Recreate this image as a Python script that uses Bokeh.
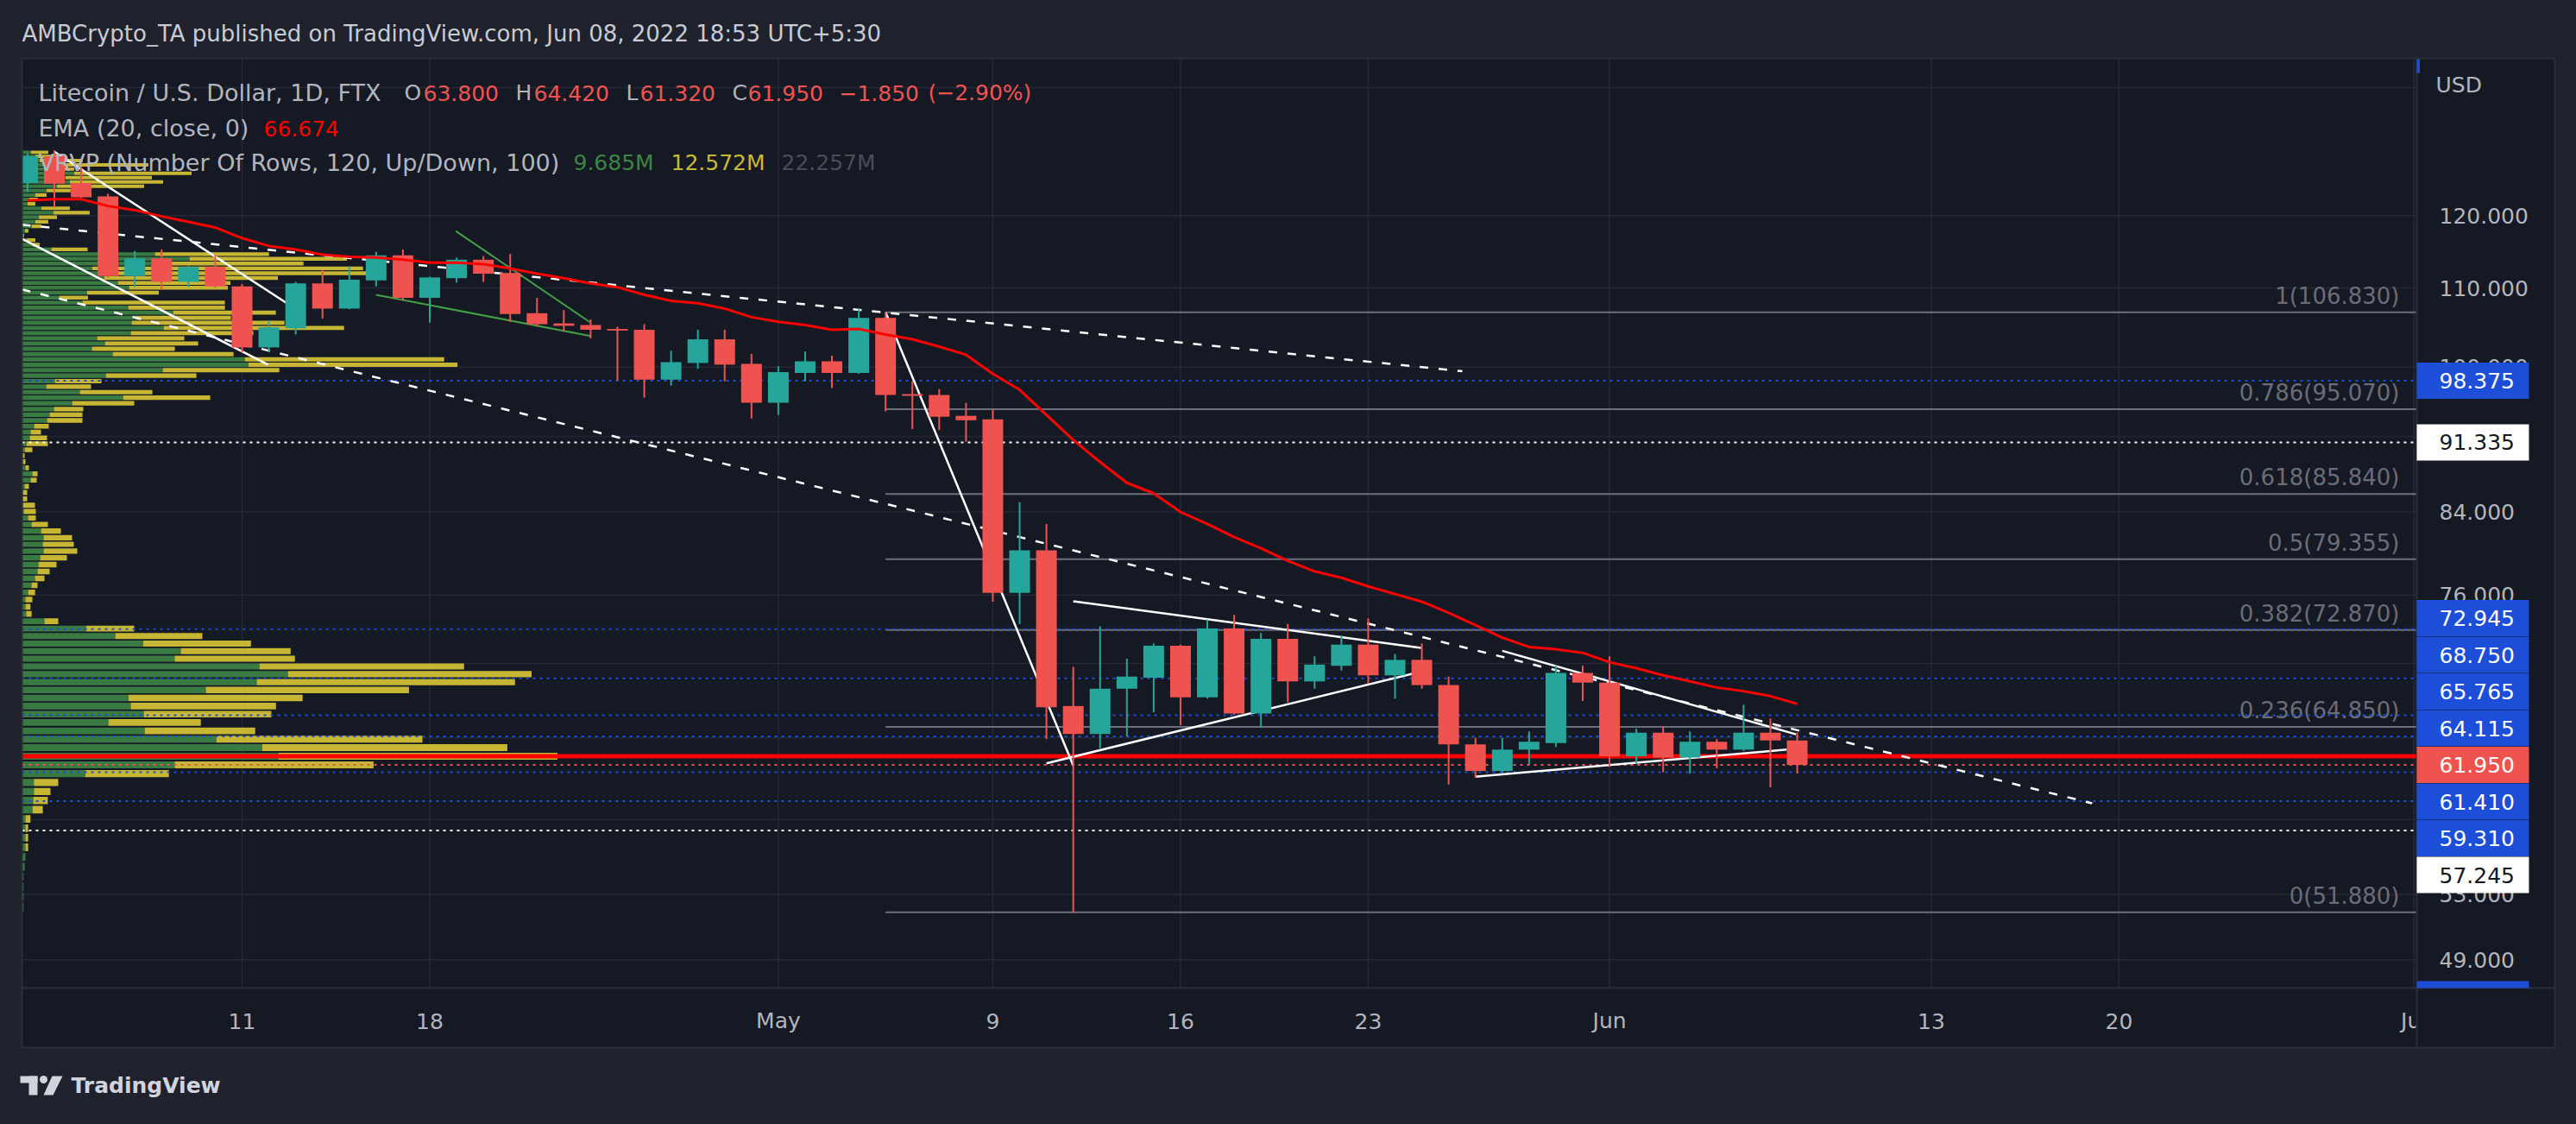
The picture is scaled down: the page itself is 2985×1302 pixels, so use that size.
import math
import pandas as pd
from bokeh.plotting import figure
from bokeh.models import Range1d, LogScale
from bokeh.embed import file_html
from bokeh.resources import INLINE
from bokeh.core.properties import value

# ---------------------------------------------------------------- data
candle_start = "2022-04-03"
opens = [124.8, 128.9, 124.8, 122.8, 111.6, 114.0, 110.8, 112.8, 110.2, 102.4,
         104.8, 110.6, 107.3, 111.0, 114.4, 108.7, 111.3, 113.8, 112.0, 106.7,
         105.4, 105.2, 104.7, 104.6, 98.5, 100.5, 103.4, 100.4, 95.8, 99.3,
         100.7, 99.3, 106.1, 96.8, 96.7, 94.3, 93.9, 76.2, 80.2, 66.5,
         64.3, 67.9, 68.8, 71.5, 67.2, 73.0, 65.9, 72.1, 68.5, 69.8,
         71.6, 69.0, 70.3, 68.2, 63.5, 61.5, 63.1, 63.6, 69.2, 68.4,
         62.6, 64.4, 62.5, 63.7, 63.1, 64.4, 63.8]
highs = [129.3, 129.84, 127.3, 123.2, 115.0, 115.2, 113.0, 114.5, 110.5, 105.8,
         110.8, 112.4, 112.9, 114.9, 115.2, 111.5, 114.1, 114.3, 114.6, 108.7,
         107.1, 105.9, 105.0, 105.3, 102.0, 104.6, 104.6, 101.6, 100.1, 101.9,
         101.4, 107.2, 106.83, 98.3, 97.4, 95.8, 95.0, 85.0, 82.8, 69.7,
         73.2, 70.4, 71.7, 71.6, 73.8, 74.2, 72.6, 73.4, 70.6, 72.4,
         73.9, 70.8, 71.7, 68.9, 64.0, 64.0, 64.5, 69.8, 69.8, 70.6,
         64.7, 64.9, 64.5, 63.9, 66.6, 65.5, 64.42]
lows = [123.5, 121.2, 122.6, 111.4, 110.1, 109.8, 110.1, 110.0, 101.8, 101.8,
        104.0, 106.0, 107.2, 110.2, 108.4, 105.5, 110.7, 110.8, 105.6, 105.0,
        104.4, 103.5, 98.4, 96.4, 97.8, 99.8, 98.3, 94.0, 94.4, 98.3,
        97.5, 99.2, 94.8, 92.8, 92.7, 91.4, 75.4, 73.4, 63.9, 51.88,
        63.2, 64.1, 66.0, 65.0, 67.1, 65.8, 64.8, 66.8, 67.9, 69.4,
        68.3, 67.1, 67.9, 60.5, 61.0, 61.3, 62.0, 63.3, 66.9, 61.8,
        62.0, 61.4, 61.3, 61.7, 63.0, 60.3, 61.32]
closes = [128.9, 124.7, 122.7, 111.6, 114.0, 110.8, 112.8, 110.2, 102.4, 104.9,
          110.6, 107.3, 111.1, 114.4, 108.7, 111.4, 113.8, 111.9, 106.6, 105.3,
          105.1, 104.6, 104.5, 98.5, 100.6, 103.4, 100.3, 95.8, 99.4, 100.7,
          99.3, 106.1, 96.7, 96.6, 94.2, 93.8, 76.2, 80.2, 66.4, 64.3,
          67.9, 68.9, 71.5, 67.2, 73.0, 65.9, 72.1, 68.5, 69.9, 71.6,
          69.0, 70.3, 68.2, 63.5, 61.5, 63.1, 63.7, 69.2, 68.4, 62.6,
          64.4, 62.5, 63.7, 63.1, 64.4, 63.8, 61.95]
ema20 = [122.2, 122.4, 122.4, 121.4, 120.8, 119.9, 119.1, 118.3, 116.8, 115.7,
         115.2, 114.5, 114.2, 114.1, 113.8, 113.4, 113.4, 113.2, 112.6, 111.9,
         111.3, 110.6, 110.1, 109.1, 108.3, 108.0, 107.3, 106.2, 105.6, 105.2,
         104.6, 104.7, 104.0, 103.4, 102.5, 101.5, 99.2, 97.3, 94.4, 91.6,
         89.2, 87.0, 85.9, 84.0, 82.8, 81.5, 80.4, 79.2, 78.2, 77.6,
         76.8, 76.1, 75.4, 74.4, 73.3, 72.2, 71.4, 71.2, 70.9, 70.1,
         69.6, 69.0, 68.5, 68.0, 67.7, 67.3, 66.674]

# visible-range volume profile, 120 rows from the low upwards (relative volume)
vp_up = [1.4, 1.4, 1.4, 1.4, 2.7, 3.6, 3.6, 3.6, 3.6, 3.6,
         11.7, 12.6, 13.4, 13.4, 72.8, 176.4, 296.5, 277.7, 224.6, 141.6,
         99.6, 140.7, 125.5, 122.8, 212.5, 271.5, 307.6, 274.6, 176.4, 183.5,
         139.8, 107.6, 73.7, 25.5, 4.5, 3.6, 3.6, 6.7, 10.6, 14.6,
         17.6, 18.6, 20.6, 24.6, 23.6, 24.6, 21.6, 10.6, 6.6, 1.6,
         0.6, 0.5, 0.5, 2.6, 9.6, 11.6, 3.6, 0.5, 0.6, 2.6,
         4.6, 8.6, 9.6, 13.6, 28.6, 31.6, 36.6, 57.6, 116.6, 66.6,
         27.6, 37.6, 96.6, 162.6, 262.0, 257.6, 104.6, 80.6, 95.6, 86.6,
         125.6, 163.6, 126.6, 131.6, 174.6, 122.6, 69.6, 42.6, 75.0, 123.6,
         110.6, 94.6, 91.0, 81.0, 154.0, 193.6, 153.6, 33.6, 12.0, 5.0,
         1.0, 3.0, 11.0, 15.0, 19.0, 36.0, 22.0, 6.0, 8.0, 15.0,
         28.0, 40.0, 55.0, 50.0, 60.0, 25.0, 30.0, 20.0, 15.0, 10.0]
vp_down = [0, 0, 0, 0, 0, 0, 3.1, 3.1, 3.1, 5.8,
           12.0, 16.9, 19.2, 28.2, 96.9, 230.4, 323.2, 284.0, 238.8, 128.1,
           107.1, 147.7, 168.3, 201.8, 235.3, 299.1, 282.2, 237.0, 139.3, 127.3,
           125.0, 100.9, 55.8, 16.1, 6.3, 5.8, 8.0, 8.1, 7.0, 11.0,
           14.0, 21.0, 31.0, 39.0, 36.0, 33.0, 23.0, 19.0, 9.0, 14.0,
           14.0, 5.1, 5.1, 5.0, 7.0, 6.0, 4.0, 3.1, 2.0, 9.0,
           25.0, 20.0, 12.0, 17.0, 41.0, 38.0, 34.0, 72.0, 101.0, 84.0,
           52.0, 54.0, 105.0, 135.0, 242.0, 231.0, 140.0, 96.0, 108.0, 101.0,
           142.0, 209.0, 177.0, 110.0, 119.0, 112.0, 165.0, 33.4, 83.0, 114.4,
           130.4, 201.4, 315.0, 313.6, 171.6, 182.4, 132.0, 42.0, 8.0, 10.0,
           1.0, 4.0, 11.0, 15.0, 21.0, 42.0, 33.0, 9.0, 10.0, 13.0,
           28.0, 101.0, 108.0, 100.0, 136.0, 35.0, 116.0, 50.0, 30.0, 20.0]

fib_anchor_date = "2022-05-05"
fib_high, fib_low = 106.83, 51.88
fib_ratios = [1, 0.786, 0.618, 0.5, 0.382, 0.236, 0]

blue_marks = [98.375, 72.945, 68.75, 65.765, 64.115, 61.41, 59.31]
white_marks = [91.335, 57.245]
last_price = 61.95

price_ticks = [49, 53, 58, 64, 70, 76, 84, 92, 100, 110, 120, 140]
price_labels_shown = [49, 53, 76, 84, 100, 110, 120]
date_ticks = ["2022-04-11", "2022-04-18", "2022-05-01", "2022-05-09", "2022-05-16",
              "2022-05-23", "2022-06-01", "2022-06-13", "2022-06-20", "2022-07-01"]
date_labels = ["11", "18", "May", "9", "16", "23", "Jun", "13", "20", "Jul"]

dashed_lines = [(("2022-04-02 19:00", 118.7), ("2022-05-26 12:15", 99.5)),
                (("2022-04-02 19:00", 109.8), ("2022-06-19 00:00", 59.15))]
white_lines = [(("2022-04-04 00:00", 129.6), ("2022-04-12 17:00", 107.9)),
               (("2022-04-02 19:00", 116.7), ("2022-04-11 23:10", 100.3)),
               (("2022-05-05 00:00", 106.83), ("2022-05-12 00:00", 61.9)),
               (("2022-05-12 00:00", 75.44), ("2022-05-24 23:15", 71.32)),
               (("2022-05-11 00:00", 62.07), ("2022-05-24 18:30", 69.2)),
               (("2022-05-28 00:00", 71.07), ("2022-06-07 23:00", 64.27)),
               (("2022-05-26 23:30", 61.08), ("2022-06-07 14:40", 63.1))]
green_lines = [(("2022-04-18 23:15", 117.8), ("2022-04-24 00:00", 105.5)),
               (("2022-04-15 23:45", 109.1), ("2022-04-24 00:00", 103.8))]

# ---------------------------------------------------------------- layout
W, H, OFF = 2985, 1302, 0
X0, PXD = 280.0, 31.07          # screen x of 11 Apr, px per day
YA, YB = 4856.3, 962.3          # log price scale
FONT = "DejaVu Sans"
OUTER, CHART, GRID, BORDER = "#1f222d", "#151924", "#252935", "#2a2e39"
UP, DOWN, BLUE, TXT = "#26a69a", "#ef5350", "#1c4ed8", "#b2b5be"


def X(px):
    return (px - X0) / PXD


def Y(px):
    return math.exp((YA - px) / YB)


def PY(price):
    return YA - YB * math.log(price)


REF = pd.Timestamp("2022-04-11")


def dnum(s):
    return (pd.Timestamp(s) - REF) / pd.Timedelta(days=1)


p = figure(width=W, height=H, x_range=Range1d(X(OFF), X(OFF + W)),
           y_range=Range1d(Y(OFF + H), Y(OFF)), y_axis_type="log",
           x_axis_location=None, y_axis_location=None, toolbar_location=None,
           output_backend="svg", min_border=0, background_fill_color=OUTER,
           border_fill_color=OUTER, outline_line_color=None)
p.y_scale = LogScale()
p.grid.visible = False


def txt(xd, yd, s, color, size="25px", align="left", baseline="middle", style="normal"):
    p.text(x=list(xd), y=list(yd), text=list(s), text_color=color, text_font=value(FONT),
           text_font_size=size, text_align=align, text_baseline=baseline,
           text_font_style=style)


XL, XR = X(25), X(2800)

# panel
p.quad(left=[XL], right=[X(2960)], bottom=[Y(1213)], top=[Y(67)], fill_color=CHART, line_color=None)

# grid
gx = [dnum(t) for t in date_ticks]
p.segment(x0=gx, y0=Y(67), x1=gx, y1=Y(1144), line_color=GRID, line_width=1.5)
p.segment(x0=XL, y0=price_ticks, x1=XR, y1=price_ticks, line_color=GRID, line_width=1.5)

# volume profile
n = len(vp_up)
lo, hi = min(lows), max(highs)
step = (hi - lo) / n
tot = [u + d for u, d in zip(vp_up, vp_down)]
vscale = (620.0 / PXD) / max(tot)
left0 = X(25.4)
vb = [lo + (i + 0.1) * step for i in range(n)]
vt = [lo + (i + 0.9) * step for i in range(n)]
ur = [left0 + u * vscale for u in vp_up]
dr = [r + d * vscale for r, d in zip(ur, vp_down)]
p.quad(left=left0, right=ur, bottom=vb, top=vt, fill_color="#387a42", line_color=None)
p.quad(left=ur, right=dr, bottom=vb, top=vt, fill_color="#c6b634", line_color=None)

# fib retracement
fx0 = dnum(fib_anchor_date)
fib_prices = [round((fib_low + r * (fib_high - fib_low)) / 0.005) * 0.005 for r in fib_ratios]
p.segment(x0=fx0, y0=fib_prices, x1=XR, y1=fib_prices, line_color="#6c6f7a", line_width=2)
txt([X(2780)] * len(fib_prices), [Y(PY(v) - 4) for v in fib_prices],
    [f"{r:g}({v:.3f})" for r, v in zip(fib_ratios, fib_prices)],
    "#6a6d78", size="26px", align="right", baseline="bottom")

# horizontal price lines
p.segment(x0=XL, y0=blue_marks, x1=XR, y1=blue_marks, line_color=BLUE, line_width=2, line_dash="3 5")
p.segment(x0=XL, y0=white_marks, x1=XR, y1=white_marks, line_color="#ffffff", line_width=2, line_dash="3 5")
p.segment(x0=XL, y0=[last_price], x1=XR, y1=[last_price], line_color=DOWN, line_width=2, line_dash="3 5")

# point of control
ipoc = tot.index(max(tot))
poc = lo + (ipoc + 0.5) * step
p.segment(x0=[XL], y0=[poc], x1=[XR], y1=[poc], line_color="#ff0000", line_width=5)


def seg_cols(lines):
    return ([dnum(a[0]) for a, b in lines], [a[1] for a, b in lines],
            [dnum(b[0]) for a, b in lines], [b[1] for a, b in lines])


x0s, y0s, x1s, y1s = seg_cols(dashed_lines)
p.segment(x0=x0s, y0=y0s, x1=x1s, y1=y1s, line_color="#ffffff", line_width=2.5, line_dash="10 12")
x0s, y0s, x1s, y1s = seg_cols(white_lines)
p.segment(x0=x0s, y0=y0s, x1=x1s, y1=y1s, line_color="#ffffff", line_width=2.5)
x0s, y0s, x1s, y1s = seg_cols(green_lines)
p.segment(x0=x0s, y0=y0s, x1=x1s, y1=y1s, line_color="#43a047", line_width=2)

# candles
dates = pd.date_range(candle_start, periods=len(opens), freq="D")
dx = [(t - REF) / pd.Timedelta(days=1) for t in dates]
cols = [UP if c >= o else DOWN for o, c in zip(opens, closes)]
hw = 12.0 / PXD
p.segment(x0=dx, y0=lows, x1=dx, y1=highs, line_color=cols, line_width=2)
p.quad(left=[d - hw for d in dx], right=[d + hw for d in dx],
       bottom=[min(o, c) for o, c in zip(opens, closes)],
       top=[max(o, c) for o, c in zip(opens, closes)], fill_color=cols, line_color=None)

# EMA
p.line(dx, ema20, line_color="#ff0000", line_width=3)

# masks around the pane
p.quad(left=[X(-10)], right=[XL], bottom=[Y(1320)], top=[Y(-10)], fill_color=OUTER, line_color=None)
p.quad(left=[X(-10)], right=[X(3010)], bottom=[Y(67)], top=[Y(-10)], fill_color=OUTER, line_color=None)
p.quad(left=[X(-10)], right=[X(3010)], bottom=[Y(1320)], top=[Y(1213)], fill_color=OUTER, line_color=None)
p.quad(left=[X(2960)], right=[X(3010)], bottom=[Y(1320)], top=[Y(-10)], fill_color=OUTER, line_color=None)
p.quad(left=[XL], right=[X(2960)], bottom=[Y(1213)], top=[Y(1144)], fill_color=CHART, line_color=None)

# date labels
txt(gx, [Y(1182)] * len(gx), date_labels, TXT, align="center")

# price axis column
p.quad(left=[XR], right=[X(2960)], bottom=[Y(1213)], top=[Y(67)], fill_color=CHART, line_color=None)
p.segment(x0=[XR], y0=[Y(67)], x1=[XR], y1=[Y(1213)], line_color=BORDER, line_width=2)
p.segment(x0=[XL], y0=[Y(1144)], x1=[X(2960)], y1=[Y(1144)], line_color=BORDER, line_width=2)
p.quad(left=[XL], right=[X(2960)], bottom=[Y(1213)], top=[Y(67)], fill_color=None,
       line_color=BORDER, line_width=2)

txt([X(2822)], [Y(98)], ["USD"], TXT)
txt([X(2826)] * len(price_labels_shown), price_labels_shown,
    [f"{v:.3f}" for v in price_labels_shown], TXT)

# price tags (stacked around the last price)
tags = [(v, BLUE, "#ffffff") for v in blue_marks] + [(v, "#ffffff", "#131722") for v in white_marks]
tags.append((last_price, DOWN, "#ffffff"))
tags.sort(key=lambda t: -t[0])
TAG_H = 42.5
cy = [PY(t[0]) for t in tags]
ia = [t[0] for t in tags].index(last_price)
for k in range(ia - 1, -1, -1):
    cy[k] = min(cy[k], cy[k + 1] - TAG_H)
for k in range(ia + 1, len(tags)):
    cy[k] = max(cy[k], cy[k - 1] + TAG_H)
p.quad(left=XR, right=X(2930), bottom=[Y(c + 21) for c in cy], top=[Y(c - 21) for c in cy],
       fill_color=[t[1] for t in tags], line_color=None)
for t, c in zip(tags, cy):
    txt([X(2826)], [Y(c)], [f"{t[0]:.3f}"], t[2])
p.quad(left=[XR], right=[X(2930)], bottom=[Y(1144)], top=[Y(1136)], fill_color=BLUE, line_color=None)
p.quad(left=[XR], right=[X(2803.5)], bottom=[Y(84)], top=[Y(68)], fill_color=BLUE, line_color=None)

# header and legends
txt([X(25)], [Y(38)], ["AMBCrypto_TA published on TradingView.com, Jun 08, 2022 18:53 UTC+5:30"],
    "#c8cbd3", size="26px")
RED = "#f05350"
LBL = "27px"
txt([X(44)], [Y(107)], ["Litecoin / U.S. Dollar, 1D, FTX"], TXT, size=LBL)
hdr = [(468, "O", TXT), (490, "63.800", RED), (597, "H", TXT), (618, "64.420", RED),
       (725, "L", TXT), (741, "61.320", RED), (848, "C", TXT), (866, "61.950", RED),
       (972, "\u22121.850", RED), (1075, "(\u22122.90%)", RED)]
for xx, s, c in hdr:
    txt([X(xx)], [Y(107)], [s], c)
txt([X(44)], [Y(148)], ["EMA (20, close, 0)"], TXT, size=LBL)
txt([X(305)], [Y(148)], ["66.674"], "#ff0000")
txt([X(44)], [Y(188)], ["VRVP (Number Of Rows, 120, Up/Down, 100)"], TXT, size=LBL)
txt([X(664)], [Y(188)], ["9.685M"], "#3e8543")
txt([X(777)], [Y(188)], ["12.572M"], "#c8b932")
txt([X(905)], [Y(188)], ["22.257M"], "#4b4c55")

# footer logo + wordmark
LOGO = "#d1d4dc"
p.quad(left=[X(23), X(33)], right=[X(43), X(43)], bottom=[Y(1254), Y(1268)], top=[Y(1246), Y(1246)],
       fill_color=LOGO, line_color=None)
p.scatter([X(50)], [Y(1250)], size=9, fill_color=LOGO, line_color=None)
p.patch([X(60), X(72), X(61), X(50)], [Y(1246), Y(1246), Y(1268), Y(1268)], fill_color=LOGO, line_color=None)
txt([X(82)], [Y(1257)], ["TradingView"], LOGO, size="25px", style="bold")

html = file_html(p, INLINE)
html = html.replace("<head>", "<head><style>html,body{background:#1f222d;}</style>", 1)
open("out.html", "w").write(html)
